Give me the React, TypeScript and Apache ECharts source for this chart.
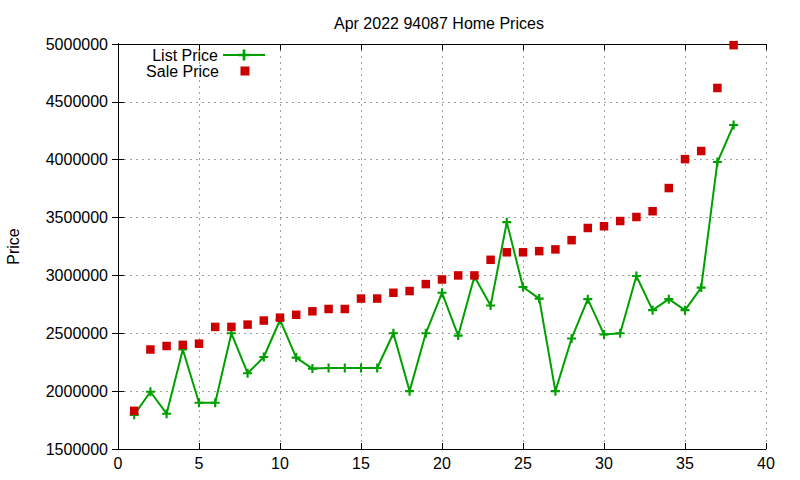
import { useEffect, useRef } from 'react';
import * as echarts from 'echarts';

// sale index (1..38) and prices
const saleIndex = [
  1, 2, 3, 4, 5, 6, 7, 8, 9, 10, 11, 12, 13, 14, 15, 16, 17, 18, 19,
  20, 21, 22, 23, 24, 25, 26, 27, 28, 29, 30, 31, 32, 33, 34, 35, 36, 37, 38,
];
const listPrices = [
  1795000, 1995000, 1805000, 2360000, 1900000, 1900000, 2500000, 2155000, 2295000, 2615000,
  2290000, 2195000, 2200000, 2200000, 2200000, 2200000, 2500000, 2000000, 2500000, 2850000,
  2480000, 2990000, 2740000, 3460000, 2900000, 2800000, 2000000, 2455000, 2795000, 2490000,
  2500000, 2995000, 2700000, 2795000, 2700000, 2895000, 3980000, 4300000,
];
const salePrices = [
  1830000, 2360000, 2390000, 2400000, 2410000, 2555000, 2555000, 2575000, 2610000, 2635000,
  2660000, 2690000, 2710000, 2710000, 2800000, 2800000, 2850000, 2865000, 2925000, 2965000,
  3000000, 3000000, 3135000, 3200000, 3200000, 3210000, 3225000, 3305000, 3410000, 3425000,
  3470000, 3505000, 3555000, 3755000, 4005000, 4075000, 4620000, 4990000,
];

const FONT = '"Liberation Sans", Arial, sans-serif';
const PLUS = 'path://M3.8,0h2.4v3.8h3.8v2.4h-3.8v3.8h-2.4v-3.8h-3.8v-2.4h3.8z';
// square in the middle of a 42x9 box, so the legend icon is not stretched
const SQUARE_ICON = 'path://M0,0L0,0.01M42,9L42,8.99M16.5,0h9v9h-9z';

export default function App() {
  const chartRef = useRef<HTMLDivElement>(null);

  useEffect(() => {
    if (!chartRef.current) return;
    const chart = echarts.init(chartRef.current, undefined, { renderer: 'svg' });

    const listData = saleIndex.map((x, i) => [x, listPrices[i]]);
    const saleData = saleIndex.map((x, i) => [x, salePrices[i]]);

    const axisLine = { show: true, lineStyle: { color: '#000', width: 1 } };
    const tick = { show: true, inside: true, length: 6, lineStyle: { color: '#000' } };
    const grid = { show: true, lineStyle: { color: '#a0a0a0', width: 1, type: [2, 4] } };

    chart.setOption({
      animation: false,
      backgroundColor: '#fff',
      textStyle: { fontFamily: FONT },
      title: {
        text: 'Apr 2022 94087 Home Prices',
        left: 329,
        top: 10,
        textStyle: { color: '#000', fontSize: 16, fontWeight: 'normal', fontFamily: FONT },
      },
      legend: [
        {
          data: ['List Price'],
          right: 529,
          top: 42,
          itemWidth: 42,
          itemHeight: 14,
          itemGap: 8,
          textStyle: { color: '#000', fontSize: 16, fontFamily: FONT },
          align: 'right',
        },
        {
          data: [{ name: 'Sale Price', icon: SQUARE_ICON }],
          right: 529,
          top: 58,
          itemWidth: 42,
          itemHeight: 9,
          textStyle: { color: '#000', fontSize: 16, fontFamily: FONT },
          align: 'right',
        },
      ],
      grid: { left: 118, right: 34, top: 44, bottom: 31, containLabel: false, outerBoundsMode: 'none' },
      xAxis: [
        {
          type: 'value',
          position: 'bottom',
          min: 0,
          max: 40,
          interval: 5,
          axisLine,
          axisTick: tick,
          splitLine: grid,
          axisLabel: { color: '#000', fontSize: 16, margin: 6, fontFamily: FONT },
        },
        {
          type: 'value',
          position: 'top',
          min: 0,
          max: 40,
          interval: 5,
          axisLine,
          axisTick: tick,
          splitLine: { show: false },
          axisLabel: { show: false },
        },
      ],
      yAxis: [
        {
          type: 'value',
          position: 'left',
          min: 1500000,
          max: 5000000,
          interval: 500000,
          name: 'Price',
          nameLocation: 'middle',
          nameGap: 97,
          nameTextStyle: { color: '#000', fontSize: 16, fontFamily: FONT },
          axisLine,
          axisTick: tick,
          splitLine: grid,
          axisLabel: {
            color: '#000',
            fontSize: 16,
            margin: 10,
            fontFamily: FONT,
            formatter: (v: number) => String(v),
          },
        },
        {
          type: 'value',
          position: 'right',
          min: 1500000,
          max: 5000000,
          interval: 500000,
          axisLine,
          axisTick: tick,
          splitLine: { show: false },
          axisLabel: { show: false },
        },
      ],
      series: [
        {
          name: 'List Price',
          type: 'line',
          data: listData,
          symbol: PLUS,
          symbolSize: 9,
          showAllSymbol: true,
          lineStyle: { color: '#00a000', width: 2 },
          itemStyle: { color: '#00a000' },
          z: 2,
        },
        {
          name: 'Sale Price',
          type: 'scatter',
          data: saleData,
          symbol: 'rect',
          symbolSize: 8.5,
          itemStyle: { color: '#cc0000', opacity: 1 },
          z: 3,
        },
      ],
    });

    return () => {
      chart.dispose();
    };
  }, []);

  return (
    <div
      ref={chartRef}
      style={{ position: 'absolute', left: 0, top: 0, width: 800, height: 480 }}
    />
  );
}
